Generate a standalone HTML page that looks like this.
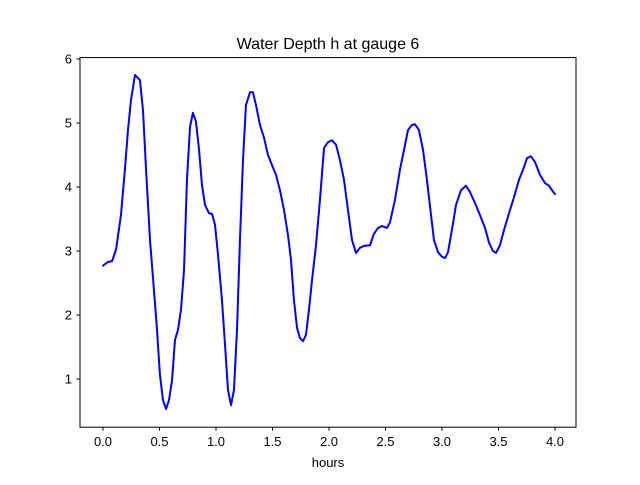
<!DOCTYPE html>
<html><head><meta charset="utf-8"><style>
body{margin:0;background:#fff;font-family:"Liberation Sans","DejaVu Sans",sans-serif}
</style></head><body>
<svg id="chart" width="640" height="480" xmlns="http://www.w3.org/2000/svg">
<rect width="640" height="480" fill="#fff"/>
<text x="328" y="49" text-anchor="middle" font-size="16">Water Depth h at gauge 6</text>
<g id="xticks"></g>
<g id="yticks"></g>
<polyline id="line" fill="none" stroke="#0000ff" stroke-width="2" stroke-linejoin="round" stroke-linecap="round"/>
<rect x="80" y="57.6" width="496" height="369.6" fill="none" stroke="#000" stroke-width="1"/>
<text x="328" y="467" text-anchor="middle" font-size="13">hours</text>
</svg>
<script>
const times=[0,.044,.080,.115,.159,.195,.221,.248,.283,.327,.354,.381,.416,.451,.478,.504,.531,.558,.584,.611,.637,.664,.690,.717,.743,.770,.796,.823,.850,.876,.903,.938,.965,.991,1.018,1.053,1.080,1.106,1.133,1.159,1.186,1.212,1.239,1.265,1.301,1.327,1.354,1.389,1.425,1.460,1.496,1.531,1.566,1.602,1.637,1.664,1.690,1.717,1.743,1.770,1.796,1.823,1.850,1.885,1.920,1.956,1.991,2.027,2.062,2.097,2.133,2.168,2.204,2.239,2.274,2.310,2.363,2.398,2.434,2.469,2.513,2.540,2.584,2.628,2.664,2.699,2.735,2.761,2.796,2.832,2.867,2.903,2.929,2.965,3.000,3.027,3.053,3.088,3.124,3.168,3.212,3.248,3.292,3.336,3.381,3.416,3.451,3.478,3.513,3.549,3.593,3.637,3.681,3.726,3.752,3.788,3.823,3.867,3.912,3.947,3.973,4.0];
const depths=[2.77,2.83,2.84,3.02,3.56,4.30,4.89,5.36,5.75,5.67,5.2,4.27,3.17,2.39,1.77,1.06,0.67,0.53,0.67,0.98,1.61,1.77,2.08,2.70,4.11,4.94,5.16,5.02,4.58,4.03,3.72,3.59,3.58,3.41,2.94,2.23,1.53,0.83,0.59,0.83,1.77,3.17,4.42,5.28,5.48,5.48,5.28,4.97,4.77,4.5,4.34,4.19,3.95,3.64,3.25,2.86,2.23,1.8,1.64,1.59,1.69,2.08,2.55,3.09,3.8,4.61,4.70,4.73,4.66,4.42,4.11,3.64,3.17,2.97,3.05,3.08,3.09,3.27,3.36,3.39,3.36,3.45,3.8,4.27,4.58,4.89,4.97,4.98,4.89,4.58,4.11,3.56,3.17,2.98,2.91,2.89,2.98,3.33,3.72,3.95,4.02,3.92,3.75,3.56,3.36,3.13,3.0,2.97,3.09,3.33,3.59,3.84,4.11,4.31,4.45,4.48,4.39,4.19,4.06,4.02,3.95,3.89];
const xTickVals=[0,0.5,1,1.5,2,2.5,3,3.5,4];
const xTickLabels=["0.0","0.5","1.0","1.5","2.0","2.5","3.0","3.5","4.0"];
const yTickVals=[1,2,3,4,5,6];
const yTickLabels=["1","2","3","4","5","6"];
const NS="http://www.w3.org/2000/svg";
function xs(t){return 103+t*113;}
function ys(h){return 379-(h-1)*64;}
const xg=document.getElementById('xticks'),yg=document.getElementById('yticks');
xTickVals.forEach((v,i)=>{
 const l=document.createElementNS(NS,'line');
 
 
 l.setAttribute('x1',xs(v));l.setAttribute('x2',xs(v));l.setAttribute('y1',427.2);l.setAttribute('y2',430.7);l.setAttribute('stroke','#000');
 xg.appendChild(l);
 const t=document.createElementNS(NS,'text');
 
 
 t.setAttribute('x',xs(v));t.setAttribute('y',446);t.setAttribute('text-anchor','middle');t.setAttribute('font-size','13');
 t.textContent=xTickLabels[i];xg.appendChild(t);
});
yTickVals.forEach((v,i)=>{
 const l=document.createElementNS(NS,'line');
 
 
 l.setAttribute('x1',76.5);l.setAttribute('x2',80);l.setAttribute('y1',ys(v));l.setAttribute('y2',ys(v));l.setAttribute('stroke','#000');
 yg.appendChild(l);
 const t=document.createElementNS(NS,'text');
 
 
 t.setAttribute('x',72);t.setAttribute('y',ys(v)+4.5);t.setAttribute('text-anchor','end');t.setAttribute('font-size','13');
 t.textContent=yTickLabels[i];yg.appendChild(t);
});
document.getElementById('line').setAttribute('points',times.map((t,i)=>xs(t)+','+ys(depths[i])).join(' '));
</script>
</body></html>
